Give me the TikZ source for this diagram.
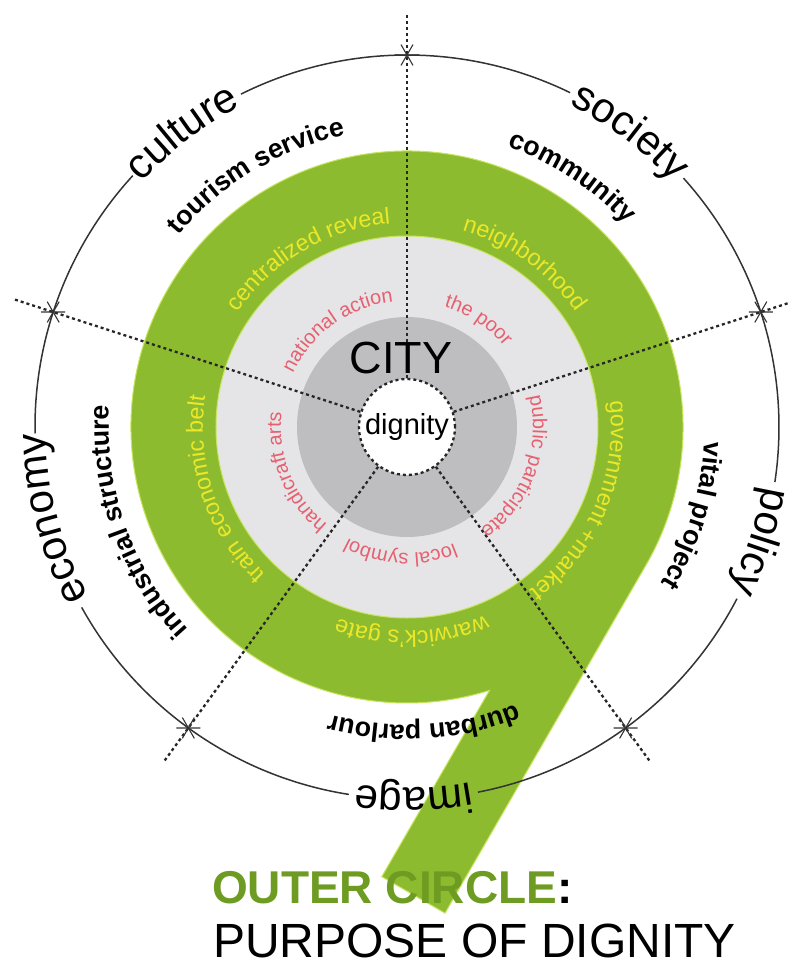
\documentclass[tikz,border=0pt]{standalone}
\usepackage{fontspec}
\setmainfont{Liberation Sans}
\usetikzlibrary{decorations.text}

\definecolor{ringgreen}{RGB}{141,187,48}
\definecolor{ringedge}{RGB}{198,228,92}
\definecolor{titlegreen}{RGB}{110,156,34}
\definecolor{lightdisk}{RGB}{229,229,231}
\definecolor{darkdisk}{RGB}{190,190,192}
\definecolor{redtext}{RGB}{230,96,112}
\definecolor{yellowtext}{RGB}{234,232,40}

\newcommand\outerfont{\fontsize{42}{46}\selectfont}
\newcommand\themefont{\fontsize{26.8}{30}\selectfont\bfseries}
\newcommand\ringfont{\fontsize{23.3}{27}\selectfont\color{yellowtext}}
\newcommand\corefont{\fontsize{20}{24}\selectfont\color{redtext}}
% radius, middle angle, font, text
\newcommand\curvedlabel[4]{%
  \path[decorate, decoration={text along path, text align=center, text={|#3|#4}}]
    ({#2+70}:#1) arc[start angle=#2+70, end angle=#2-70, radius=#1pt];}

\begin{document}
\begin{tikzpicture}[x=1pt, y=1pt,
    rim/.style={draw=black!80, line width=1.5pt},
    spoke/.style={draw=black!85, line width=2.3pt, dash pattern=on 3pt off 3pt},
    star/.style={draw=black!80, line width=1.1pt}]
  \useasboundingbox[fill=white] (-407,-535) rectangle (381,427);

  % green ring and its tail
  \coordinate (tailtop) at (-30:276);
  \path (tailtop) ++(240:402) coordinate (tailend) ++(150:73) coordinate (tailcorner);
  \fill[ringgreen, draw=ringedge, line width=1pt] (tailtop)
    arc[start angle=-30, end angle=287.4, radius=276pt] -- (tailcorner) -- (tailend) -- cycle;
  \fill[lightdisk, draw=ringedge, line width=1pt] (0,0) circle[radius=191pt];
  \fill[darkdisk] (0,0) circle[radius=110pt];

  % outer circle, broken at the labels
  \foreach \from/\to in {-79/-27.5, -8.5/42, 64/116.5, 137.5/181, 209/261}
    \draw[rim] (\from:372) arc[start angle=\from, end angle=\to, radius=372pt];

  \node[circle, minimum size=96pt, inner sep=0pt, fill=white, spoke,
        font=\fontsize{29}{32}\selectfont] (dignity) at (0,0) {dignity};

  \foreach \a [count=\i] in {90,18,-54,-126,162} {
    \coordinate (spokeend\i) at (\a:415);
    \draw[spoke] (dignity.\a) -- (spokeend\i);
    \begin{scope}[shift={(\a:372)}]
      \draw[star] (-12,0) -- (12,0) (-6,-10.4) -- (6,10.4) (-6,10.4) -- (6,-10.4);
    \end{scope}
  }

  \node[anchor=base, inner sep=0pt, font=\fontsize{45}{48}\selectfont] (city) at (-6,54) {CITY};

  \curvedlabel{361}{127.3}{\outerfont}{culture}
  \curvedlabel{361}{52.9}{\outerfont}{society}
  \curvedlabel{361}{-18}{\outerfont}{policy}
  \curvedlabel{361}{-89}{\outerfont}{image}
  \curvedlabel{361}{194.5}{\outerfont}{economy}

  \curvedlabel{298}{121}{\themefont}{tourism service}
  \curvedlabel{298}{56.6}{\themefont}{community}
  \curvedlabel{298}{-17.2}{\themefont}{vital project}
  \curvedlabel{298}{-86.7}{\themefont}{durban parlour}
  \curvedlabel{298}{199.3}{\themefont}{industrial structure}

  \curvedlabel{204}{120.3}{\ringfont}{centralized reveal}
  \curvedlabel{204}{54.3}{\ringfont}{neighborhood}
  \curvedlabel{204}{-23}{\ringfont}{government +market}
  \curvedlabel{204}{-88.6}{\ringfont}{warwick's gate}
  \curvedlabel{204}{198.7}{\ringfont}{train economic belt}

  \curvedlabel{126}{125.5}{\corefont}{national action}
  \curvedlabel{126}{56.2}{\corefont}{the poor}
  \curvedlabel{126}{-20.3}{\corefont}{public participate}
  \curvedlabel{126}{-93}{\corefont}{local symbol}
  \curvedlabel{126}{202}{\corefont}{handicraft arts}

  \node[anchor=base west, inner sep=0pt, font=\fontsize{46}{50}\selectfont\bfseries, text=titlegreen]
    (outer) at (-195,-476) {OUTER CIRCLE\textcolor{black}{:}};
  \node[anchor=base west, inner sep=0pt, font=\fontsize{48}{52}\selectfont]
    (purpose) at (-194,-530) {PURPOSE OF DIGNITY};
\end{tikzpicture}
\end{document}
